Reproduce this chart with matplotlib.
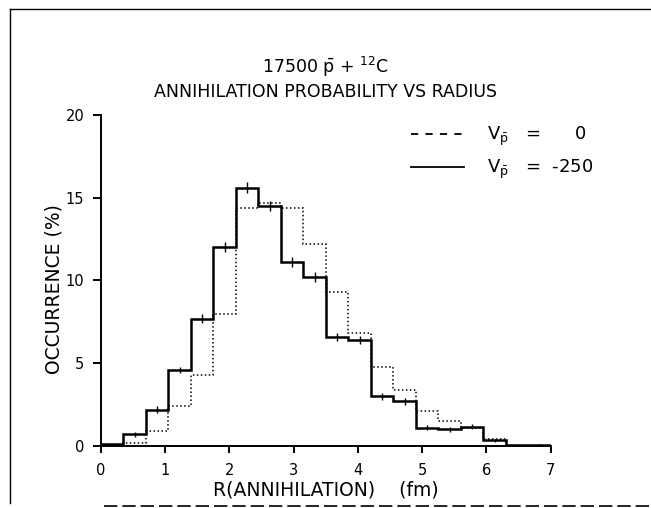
import numpy as np
import matplotlib
matplotlib.use('Agg')
import matplotlib.pyplot as plt
from matplotlib.lines import Line2D

# Annihilation radius distributions, 0.35 fm bins from 0 to 7 fm
bin_edges = np.linspace(0, 7, 21)
occ_v0 = [0.0, 0.2, 0.9, 2.4, 4.3, 8.0, 14.4, 14.7, 14.4, 12.2,
          9.3, 6.8, 4.8, 3.4, 2.1, 1.5, 1.1, 0.45, 0.0, 0.0]
occ_v250 = [0.1, 0.7, 2.2, 4.6, 7.7, 12.0, 15.6, 14.5, 11.1, 10.2,
            6.6, 6.4, 3.0, 2.7, 1.1, 1.0, 1.15, 0.35, 0.08, 0.08]
err_v250 = [0.05, 0.15, 0.2, 0.2, 0.25, 0.3, 0.35, 0.3, 0.3, 0.3,
            0.25, 0.25, 0.2, 0.2, 0.15, 0.15, 0.15, 0.1, 0.05, 0.05]
xticks = [0, 1, 2, 3, 4, 5, 6, 7]
yticks = [0, 5, 10, 15, 20]

fig = plt.figure(figsize=(6.51, 5.08), dpi=100)
ax = fig.add_axes([0.155, 0.122, 0.691, 0.652])

ax.stairs(occ_v0, bin_edges, color='k', lw=1.1, linestyle=(0, (1, 1.6)))
ax.stairs(occ_v250, bin_edges, color='k', lw=1.8)
centers = 0.5 * (bin_edges[:-1] + bin_edges[1:])
ax.errorbar(centers, occ_v250, yerr=err_v250, fmt='none', ecolor='k', elinewidth=1.0)

ax.set_xlim(0, 7)
ax.set_ylim(0, 20)
ax.spines['top'].set_visible(False)
ax.spines['right'].set_visible(False)
for s in ('left', 'bottom'):
    ax.spines[s].set_linewidth(1.4)
ax.set_xticks(xticks)
ax.set_yticks(yticks)
ax.tick_params(axis='x', direction='out', length=5, width=1.4, pad=7, labelsize=10.5)
ax.tick_params(axis='y', direction='out', length=6, width=1.4, pad=6, labelsize=10.5)

handles = [Line2D([], [], color='k', lw=1.3, linestyle=(0, (4, 4))),
           Line2D([], [], color='k', lw=1.3)]
vp = r'$\mathrm{V}_{\bar{\mathrm{p}}}$'
labels = [vp + '   =      0', vp + '   =  -250']
ax.legend(handles, labels, loc='upper left', bbox_to_anchor=(0.69, 0.97),
          frameon=False, fontsize=13, handlelength=2.9, handletextpad=1.3,
          labelspacing=0.55, borderpad=0, borderaxespad=0)

fig.text(0.5, 0.868, r'17500 $\bar{\mathrm{p}}$ + $^{12}$C', ha='center', va='center', fontsize=12.5)
fig.text(0.5, 0.819, 'ANNIHILATION PROBABILITY VS RADIUS', ha='center', va='center', fontsize=12.5)
fig.text(0.083, 0.43, 'OCCURRENCE (%)', rotation=90, ha='center', va='center', fontsize=13.5)
fig.text(0.5, 0.035, 'R(ANNIHILATION)    (fm)', ha='center', va='center', fontsize=13.5)

# page border around the plot
fig.add_artist(Line2D([0.015, 1.0], [0.982, 0.982], color='k', lw=1.0))
fig.add_artist(Line2D([0.015, 0.015], [0.982, 0.01], color='k', lw=1.0))
fig.add_artist(Line2D([0.16, 1.0], [0.004, 0.004], color='k', lw=1.2, linestyle=(0, (8, 3))))

fig.savefig('out.png', dpi=100)
